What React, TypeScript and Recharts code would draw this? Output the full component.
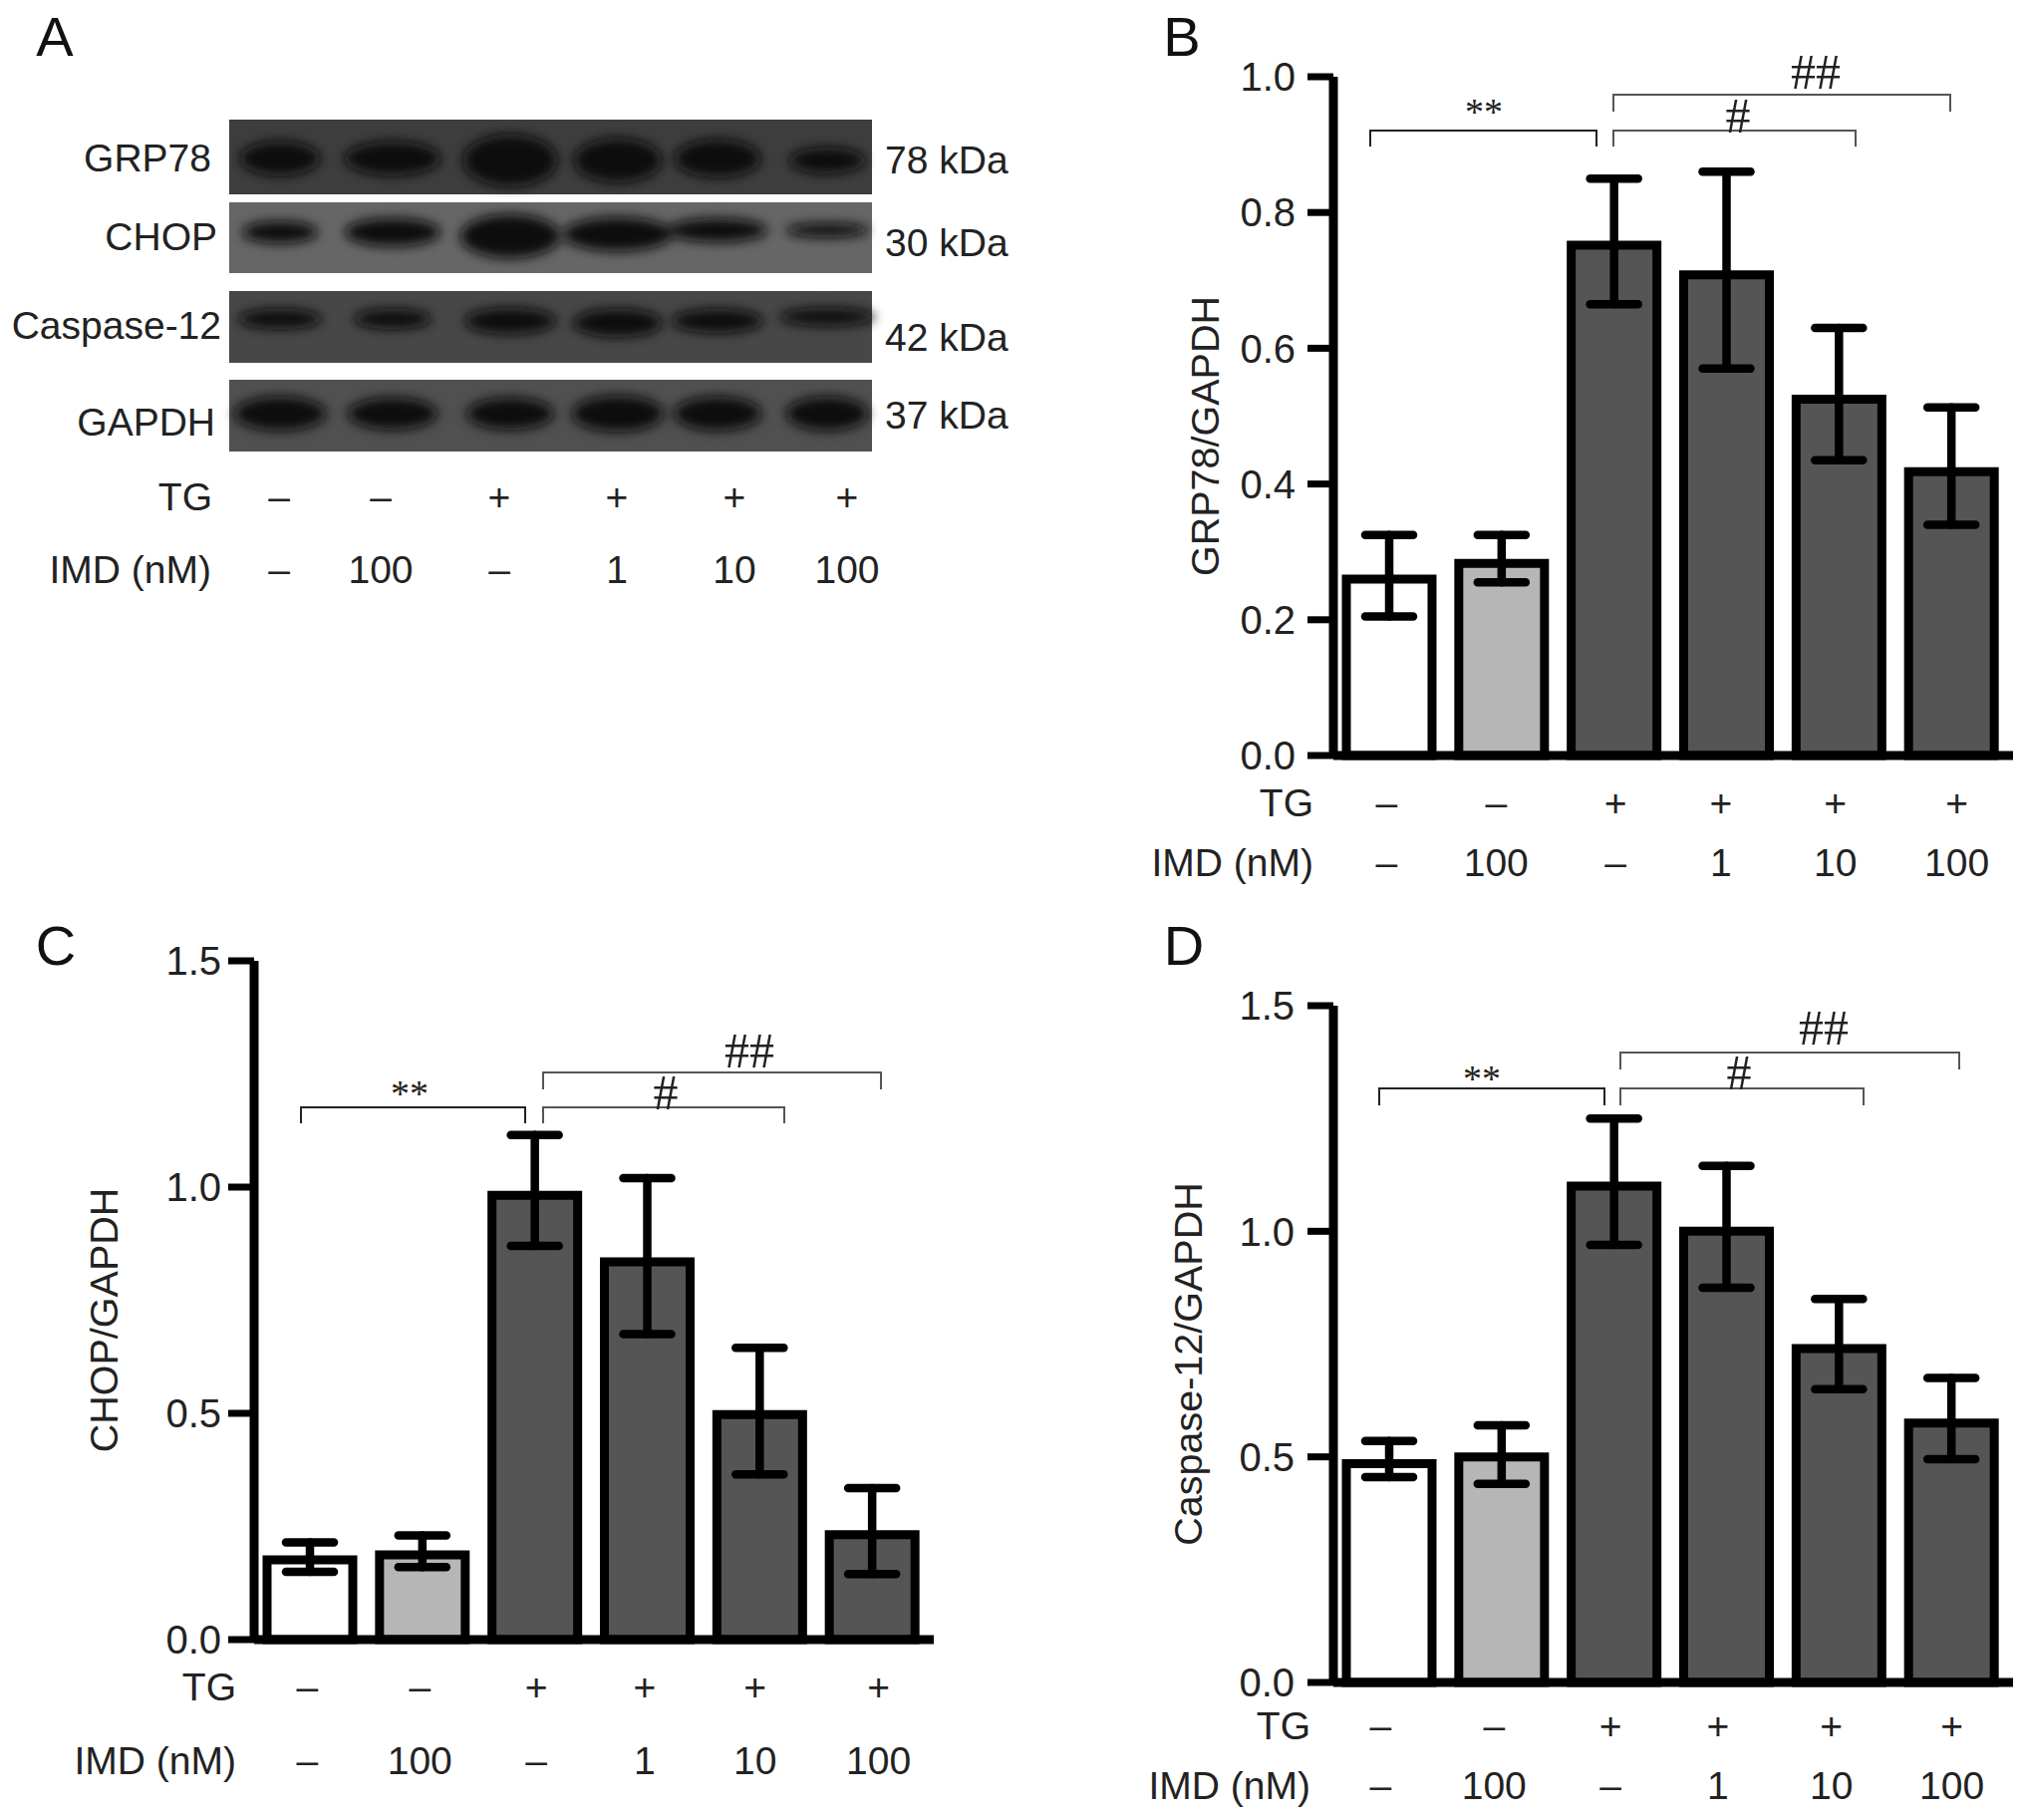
import React from "react";
import { BarChart, Bar, Cell, XAxis, YAxis, ErrorBar } from "recharts";

// --- Data ---

const conditions = ["Control", "IMD 100", "TG", "TG + IMD 1", "TG + IMD 10", "TG + IMD 100"];
const tgRow = ["–", "–", "+", "+", "+", "+"];
const imdRow = ["–", "100", "–", "1", "10", "100"];
const barFills = ["#ffffff", "#b6b6b6", "#555555", "#555555", "#555555", "#555555"];

const grpMeans = [0.26, 0.283, 0.752, 0.708, 0.525, 0.418];
const grpLow = [0.205, 0.255, 0.665, 0.57, 0.435, 0.34];
const grpHigh = [0.325, 0.325, 0.85, 0.86, 0.63, 0.513];

const chopMeans = [0.176, 0.187, 0.982, 0.835, 0.497, 0.232];
const chopLow = [0.15, 0.16, 0.87, 0.675, 0.365, 0.145];
const chopHigh = [0.215, 0.23, 1.115, 1.02, 0.645, 0.335];

const caspMeans = [0.485, 0.5, 1.1, 1.0, 0.74, 0.575];
const caspLow = [0.455, 0.44, 0.97, 0.875, 0.65, 0.495];
const caspHigh = [0.535, 0.57, 1.25, 1.145, 0.85, 0.675];

const ticksTo1 = [0, 0.2, 0.4, 0.6, 0.8, 1];
const ticksTo15 = [0, 0.5, 1, 1.5];

const blotLanes = ["GRP78", "CHOP", "Caspase-12", "GAPDH"];
const blotWeights = ["78 kDa", "30 kDa", "42 kDa", "37 kDa"];

const FONT = "'Liberation Sans', Arial, sans-serif";
const TEXT = "#222222";

const buildRows = (means: number[], low: number[], high: number[]) =>
  conditions.map((name, i) => ({
    name,
    value: means[i],
    err: [means[i] - low[i], high[i] - means[i]],
  }));

// --- Bar panel ---

const PLOT_W = 682;
const LEFT_PAD = 200;
const TOP_PAD = 40;

const RowTick = ({ x, y, payload, index, dx, tgY, imdY, labelX }: any) => {
  const i = payload?.index ?? index;
  return (
    <g fontFamily={FONT} fontSize={39} fill={TEXT} textAnchor="middle">
      <text x={x + dx[i]} y={y + tgY} dominantBaseline="central">{tgRow[i]}</text>
      <text x={x + dx[i]} y={y + imdY} dominantBaseline="central">{imdRow[i]}</text>
      {i === 0 && (
        <>
          <text x={labelX} y={y + tgY} textAnchor="end" dominantBaseline="central">TG</text>
          <text x={labelX} y={y + imdY} textAnchor="end" dominantBaseline="central">IMD (nM)</text>
        </>
      )}
    </g>
  );
};

function Panel({ data, max, ticks, left, top, bottom, yLabel, labelDy, labelX, dx, tgY, imdY, rowLabelX, tickGap }: any) {
  const plotH = bottom - top;
  return (
    <div style={{ position: "absolute", left: left - LEFT_PAD, top: top - TOP_PAD }}>
      <BarChart
        width={LEFT_PAD + PLOT_W + 10}
        height={TOP_PAD + plotH + 150}
        data={data}
        margin={{ top: TOP_PAD, right: 10, left: 0, bottom: 0 }}
        barCategoryGap={0}
      >
        <XAxis
          dataKey="name"
          interval={0}
          height={150}
          padding={{ left: 0, right: 5 }}
          tickLine={false}
          tickSize={0}
          tickMargin={0}
          axisLine={{ stroke: "#000", strokeWidth: 9 }}
          tick={(p: any) => <RowTick {...p} dx={dx} tgY={tgY} imdY={imdY} labelX={rowLabelX} />}
        />
        <YAxis
          width={LEFT_PAD}
          domain={[0, max]}
          ticks={ticks}
          interval={0}
          tickFormatter={(v: number) => v.toFixed(1)}
          tickSize={26}
          tickMargin={tickGap}
          axisLine={{ stroke: "#000", strokeWidth: 9 }}
          tickLine={{ stroke: "#000", strokeWidth: 7 }}
          tick={{ fontFamily: FONT, fontSize: 40, fill: TEXT }}
          label={{
            value: yLabel,
            angle: -90,
            position: "insideLeft",
            offset: labelX,
            dy: labelDy,
            style: { textAnchor: "middle", fontFamily: FONT, fontSize: 39.5, fill: TEXT },
          }}
        />
        <Bar dataKey="value" barSize={86} stroke="#000" strokeWidth={9} isAnimationActive={false}>
          {data.map((d: any, i: number) => (
            <Cell key={d.name} fill={barFills[i]} />
          ))}
          <ErrorBar dataKey="err" width={24} stroke="#000" strokeWidth={8.5} strokeLinecap="round" direction="y" isAnimationActive={false} />
        </Bar>
      </BarChart>
    </div>
  );
}

// --- Significance brackets ---

const Bracket = ({ x1, x2, y, drop, color = "#444" }: any) => (
  <path d={`M${x1} ${y + drop}V${y}H${x2}V${y + drop}`} fill="none" stroke={color} strokeWidth={2} />
);

const Mark = ({ x, y, children, size = 50 }: any) => (
  <text x={x} y={y} fontFamily="'Liberation Serif', serif" fontSize={size} fill="#222" textAnchor="middle" dominantBaseline="central">
    {children}
  </text>
);

// --- Blot panel (A) ---

const laneX = [281, 394, 512, 620, 720, 830];
const blotRows = [
  { y: 120, h: 75, bg: "#3d3d3d", cy: 39, w: [80, 96, 94, 88, 86, 76], t: [34, 34, 52, 44, 38, 26], dy: [0, 0, 2, 2, 0, 2] },
  { y: 203, h: 71, bg: "#666666", cy: 30, w: [76, 96, 100, 110, 100, 84], t: [22, 28, 44, 34, 24, 14], dy: [0, 0, 4, 2, -2, -2] },
  { y: 292, h: 72, bg: "#474747", cy: 28, w: [84, 78, 92, 90, 92, 96], t: [20, 20, 26, 28, 24, 18], dy: [0, 0, 2, 4, 2, -2] },
  { y: 381, h: 72, bg: "#505050", cy: 34, w: [92, 90, 88, 92, 88, 82], t: [34, 32, 32, 36, 34, 34], dy: [0, 0, 0, 0, 0, 0] },
];

const BlotPanel = () => (
  <g>
    <defs>
      <filter id="band" x="-30%" y="-60%" width="160%" height="220%">
        <feGaussianBlur stdDeviation="6" />
      </filter>
    </defs>
    {blotRows.map((row, r) => (
      <g key={blotLanes[r]}>
        <rect x={230} y={row.y} width={645} height={row.h} fill={row.bg} />
        <g filter="url(#band)">
          {laneX.map((cx, i) => (
            <ellipse key={i} cx={cx} cy={row.y + row.cy + row.dy[i]} rx={row.w[i] / 2} ry={row.t[i] / 2} fill="#111111" />
          ))}
        </g>
      </g>
    ))}
    <g fontFamily={FONT} fontSize={39} fill={TEXT} dominantBaseline="central">
      <text x={212} y={158} textAnchor="end">{blotLanes[0]}</text>
      <text x={218} y={237} textAnchor="end">{blotLanes[1]}</text>
      <text x={222} y={326} textAnchor="end">{blotLanes[2]}</text>
      <text x={216} y={423} textAnchor="end">{blotLanes[3]}</text>
      <text x={888} y={160}>{blotWeights[0]}</text>
      <text x={888} y={243}>{blotWeights[1]}</text>
      <text x={888} y={338}>{blotWeights[2]}</text>
      <text x={888} y={416}>{blotWeights[3]}</text>
      <text x={213} y={498} textAnchor="end">TG</text>
      <text x={212} y={571} textAnchor="end">IMD (nM)</text>
      {[280, 382, 501, 619, 737, 850].map((x, i) => (
        <g key={x} textAnchor="middle">
          <text x={x} y={498}>{tgRow[i]}</text>
          <text x={x} y={571}>{imdRow[i]}</text>
        </g>
      ))}
    </g>
  </g>
);

export default function App() {
  return (
    <div style={{ position: "absolute", left: 0, top: 0, width: 2031, height: 1826, background: "#fff", overflow: "hidden" }}>
      <Panel
        data={buildRows(grpMeans, grpLow, grpHigh)}
        max={1} ticks={ticksTo1}
        left={1338} top={77} bottom={758} tickGap={12}
        yLabel="GRP78/GAPDH" labelX={71} labelDy={20}
        dx={[-3, -6, 1, -6, -4, 5]} tgY={47} imdY={107} rowLabelX={LEFT_PAD - 20}
      />
      <Panel
        data={buildRows(chopMeans, chopLow, chopHigh)}
        max={1.5} ticks={ticksTo15}
        left={255} top={964} bottom={1645} tickGap={7}
        yLabel="CHOP/GAPDH" labelX={49} labelDy={20}
        dx={[-3, -3, 1, -3, -5, 6]} tgY={47} imdY={121} rowLabelX={LEFT_PAD - 18}
      />
      <Panel
        data={buildRows(caspMeans, caspLow, caspHigh)}
        max={1.5} ticks={ticksTo15}
        left={1338} top={1009} bottom={1688} tickGap={13}
        yLabel="Caspase-12/GAPDH" labelX={54} labelDy={20}
        dx={[-9, -8, -4, -9, -8, 0]} tgY={43} imdY={103} rowLabelX={LEFT_PAD - 23}
      />
      <svg width={2031} height={1826} style={{ position: "absolute", left: 0, top: 0, pointerEvents: "none" }}>
        <BlotPanel />
        <g fontFamily={FONT} fontSize={56} fill="#111" textAnchor="middle" dominantBaseline="central">
          <text x={55} y={36}>A</text>
          <text x={1186} y={36}>B</text>
          <text x={56} y={948}>C</text>
          <text x={1188} y={948}>D</text>
        </g>

        <Bracket x1={1375} x2={1602} y={131} drop={16} color="#222" />
        <Bracket x1={1619} x2={1862} y={131} drop={16} color="#555" />
        <Bracket x1={1619} x2={1957} y={95} drop={17} color="#555" />
        <Mark x={1489} y={112} size={38}>**</Mark>
        <Mark x={1744} y={116}>#</Mark>
        <Mark x={1822} y={72}>##</Mark>

        <Bracket x1={302} x2={527} y={1111} drop={16} color="#222" />
        <Bracket x1={545} x2={787} y={1111} drop={16} color="#555" />
        <Bracket x1={545} x2={884} y={1076} drop={17} color="#555" />
        <Mark x={411} y={1097} size={38}>**</Mark>
        <Mark x={668} y={1096}>#</Mark>
        <Mark x={752} y={1054}>##</Mark>

        <Bracket x1={1384} x2={1610} y={1092} drop={17} color="#222" />
        <Bracket x1={1626} x2={1870} y={1092} drop={17} color="#555" />
        <Bracket x1={1626} x2={1966} y={1056} drop={17} color="#555" />
        <Mark x={1487} y={1082} size={38}>**</Mark>
        <Mark x={1745} y={1076}>#</Mark>
        <Mark x={1830} y={1031}>##</Mark>
      </svg>
    </div>
  );
}
